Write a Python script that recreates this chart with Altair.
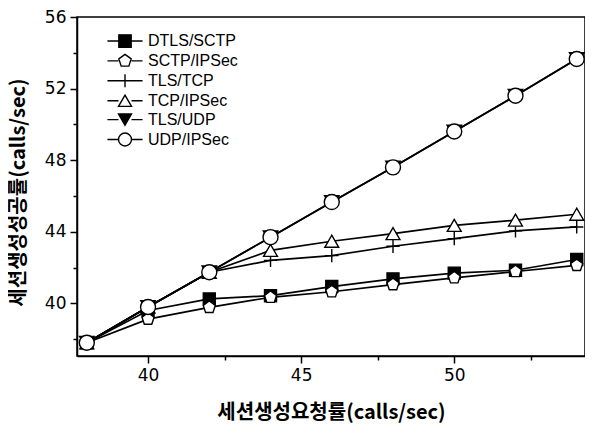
import altair as alt
import pandas as pd

x_vals = [38, 40, 42, 44, 46, 48, 50, 52, 54]
series_names = ["DTLS/SCTP", "SCTP/IPSec", "TLS/TCP", "TCP/IPSec", "TLS/UDP", "UDP/IPSec"]
dtls_sctp = [37.8, 39.6, 40.25, 40.43, 40.94, 41.37, 41.69, 41.85, 42.45]
sctp_ipsec = [37.8, 39.12, 39.78, 40.34, 40.65, 41.05, 41.43, 41.78, 42.12]
tls_tcp = [37.8, 39.8, 41.74, 42.4, 42.67, 43.19, 43.62, 44.05, 44.27]
tcp_ipsec = [37.8, 39.8, 41.74, 42.96, 43.47, 43.9, 44.36, 44.65, 44.98]
tls_udp = [37.8, 39.8, 41.74, 43.7, 45.66, 47.6, 49.6, 51.6, 53.65]
udp_ipsec = [37.8, 39.8, 41.74, 43.7, 45.66, 47.6, 49.6, 51.6, 53.65]

x_major = [40, 45, 50]
x_minor = [42.5, 47.5, 52.5]
y_major = [40, 44, 48, 52, 56]
y_minor = [38, 42, 46, 50, 54]

all_series = [dtls_sctp, sctp_ipsec, tls_tcp, tcp_ipsec, tls_udp, udp_ipsec]

rows = []
for name, vals in zip(series_names, all_series):
    for xv, yv in zip(x_vals, vals):
        rows.append({"series": name, "x": xv, "y": yv})
df = pd.DataFrame(rows)

# marker shapes
pent = "M0,-1L0.951,-0.309L0.588,0.809L-0.588,0.809L-0.951,-0.309Z"
plus = "M-1,0L1,0M0,-1L0,1"
marker_shapes = ["square", pent, plus, "triangle-up", "triangle-down", "circle"]
marker_fills = ["black", "white", "white", "white", "black", "white"]
marker_sizes = [144, 225, 196, 256, 225, 225]

seg = "M-2.7,0L-1,0M1,0L2.7,0"
legend_shapes = [
    seg + "M-0.95,-0.95L0.95,-0.95L0.95,0.95L-0.95,0.95Z",
    seg + "M0,-1L0.951,-0.309L0.588,0.809L-0.588,0.809L-0.951,-0.309Z",
    "M-2.7,0L2.7,0M0,-1L0,1",
    seg + "M0,-0.866L1,0.866L-1,0.866Z",
    seg + "M0,0.866L1,-0.866L-1,-0.866Z",
    seg + "M1,0A1,1,0,1,1,-1,0A1,1,0,1,1,1,0Z",
]

x_scale = alt.Scale(domain=[37.68, 54.27], nice=False, zero=False)
y_scale = alt.Scale(domain=[37.06, 56], nice=False, zero=False)

x_axis_major = alt.Axis(
    title="세션생성요청률(calls/sec)",
    values=x_major,
    tickSize=7,
    grid=False,
    orient="bottom",
    titleY=56,
    titleBaseline="middle",
)
y_axis_major = alt.Axis(
    title="세션생성성공률(calls/sec)",
    values=y_major,
    tickSize=7,
    grid=False,
    orient="left",
    titleX=-59,
    titleY=175,
    titleBaseline="middle",
)
x_axis_minor = alt.Axis(
    values=x_minor, tickSize=4, labels=False, domain=False, grid=False, title=None, orient="bottom"
)
y_axis_minor = alt.Axis(
    values=y_minor, tickSize=4, labels=False, domain=False, grid=False, title=None, orient="left"
)

base = alt.Chart(df)

lines = base.mark_line(color="black", strokeWidth=1.7).encode(
    x=alt.X("x:Q", scale=x_scale, axis=x_axis_major),
    y=alt.Y("y:Q", scale=y_scale, axis=y_axis_major),
    detail="series:N",
)

points = base.mark_point(stroke="black", strokeWidth=1.4, opacity=1, fillOpacity=1).encode(
    x=alt.X("x:Q", scale=x_scale, axis=x_axis_minor),
    y=alt.Y("y:Q", scale=y_scale, axis=y_axis_minor),
    shape=alt.Shape("series:N", scale=alt.Scale(domain=series_names, range=marker_shapes), legend=None),
    fill=alt.Fill("series:N", scale=alt.Scale(domain=series_names, range=marker_fills), legend=None),
    size=alt.Size("series:N", scale=alt.Scale(domain=series_names, range=marker_sizes), legend=None),
)

leg = alt.Legend(title=None, orient="none", legendX=20, legendY=16)
legend_layer = base.mark_point(
    stroke="black", strokeWidth=1.4, opacity=1, fillOpacity=1, strokeOpacity=1
).encode(
    x=alt.X("x:Q", scale=x_scale, axis=None),
    y=alt.Y("y:Q", scale=y_scale, axis=None),
    shape=alt.Shape("series:N", scale=alt.Scale(domain=series_names, range=legend_shapes), legend=leg),
    fill=alt.Fill("series:N", scale=alt.Scale(domain=series_names, range=marker_fills), legend=leg),
).transform_filter("false")

chart = (
    alt.layer(lines, points, legend_layer)
    .resolve_scale(shape="independent", fill="independent")
    .resolve_axis(x="independent", y="independent")
    .properties(
        width=508,
        height=339,
        padding={"left": 69, "top": 9, "right": 0, "bottom": 70},
        autosize=alt.AutoSizeParams(type="none"),
        background="white",
    )
    .configure_view(stroke="black", strokeWidth=1.5)
    .configure_axis(
        domainColor="black",
        domainWidth=1.5,
        tickColor="black",
        tickWidth=1.5,
        labelFont="DejaVu Sans",
        labelFontSize=17,
        labelColor="black",
        labelPadding=4,
        titleFont="Noto Sans CJK KR",
        titleFontSize=20,
        titleFontWeight="bold",
        titleColor="black",
    )
    .configure_legend(
        labelFont="Liberation Sans",
        labelFontSize=16,
        labelColor="black",
        symbolSize=169,
        symbolStrokeWidth=1.4,
        symbolOffset=20,
        labelOffset=15,
        rowPadding=0.9,
        padding=0,
    )
)

chart.save("out.html", embed_options={"renderer": "svg", "actions": False})
